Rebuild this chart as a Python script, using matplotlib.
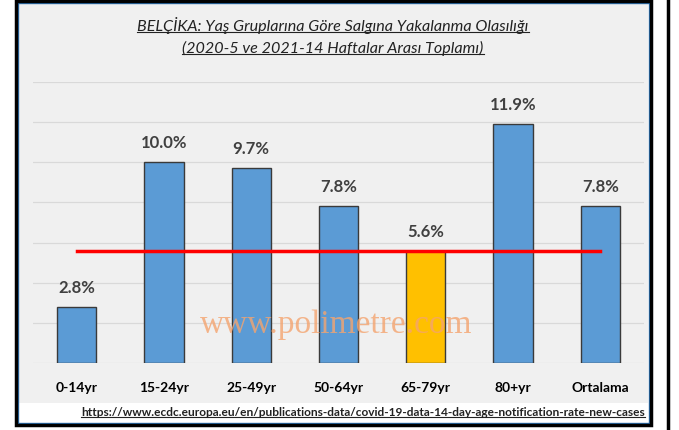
import matplotlib.pyplot as plt
from matplotlib.patches import Rectangle
from matplotlib.lines import Line2D

CATEGORIES = ["0-14yr", "15-24yr", "25-49yr", "50-64yr", "65-79yr", "80+yr", "Ortalama"]
VALUES = [2.8, 10.0, 9.7, 7.8, 5.6, 11.9, 7.8]
VALUE_LABELS = ["2.8%", "10.0%", "9.7%", "7.8%", "5.6%", "11.9%", "7.8%"]
HIGHLIGHT = "65-79yr"
AVG_LINE = 5.6

TITLE_LINES = ["BELÇİKA: Yaş Gruplarına Göre Salgına Yakalanma Olasılığı",
               "(2020-5 ve 2021-14 Haftalar Arası Toplamı)"]
SOURCE = "https://www.ecdc.europa.eu/en/publications-data/covid-19-data-14-day-age-notification-rate-new-cases"
WATERMARK = "www.polimetre.com"

plt.rcParams["font.family"] = ["Lato", "DejaVu Sans"]

W, H = 679, 430


def fx(px):
    return px / W


def fy(py):
    return 1 - py / H


fig = plt.figure(figsize=(W / 100, H / 100), dpi=100)
fig.patch.set_facecolor("white")

# chart box: gray plot zone, white source strip, borders
fig.patches.append(Rectangle((fx(18), fy(403)), fx(648) - fx(18), fy(3) - fy(403),
                             transform=fig.transFigure, facecolor="#f0f0f0",
                             edgecolor="none", zorder=-3))
fig.patches.append(Rectangle((fx(17.5), fy(423)), fx(648.5) - fx(17.5), fy(2.5) - fy(423),
                             transform=fig.transFigure, facecolor="none",
                             edgecolor="#2e75b6", linewidth=1, zorder=-2))
fig.patches.append(Rectangle((fx(16), fy(425)), fx(651) - fx(16), fy(1) - fy(425),
                             transform=fig.transFigure, facecolor="none",
                             edgecolor="black", linewidth=2.5, zorder=-1))
fig.lines.append(Line2D([fx(668), fx(668)], [0, 1], transform=fig.transFigure,
                        color="black", linewidth=2.5))

ax = fig.add_axes([fx(33), fy(363), fx(644) - fx(33), fy(82) - fy(363)])
ax.set_facecolor("none")
ax.set_zorder(3)

colors = ["#ffc000" if c == HIGHLIGHT else "#5b9bd5" for c in CATEGORIES]
x = list(range(len(CATEGORIES)))
ax.bar(x, VALUES, width=0.45, color=colors, edgecolor="#3a3a3a", linewidth=1, zorder=2)

for xi, v, lab in zip(x, VALUES, VALUE_LABELS):
    ax.text(xi, v + 0.55, lab, ha="center", va="bottom", fontsize=12,
            fontweight="bold", color="#404040", zorder=4)

ax.plot([x[0], x[-1]], [AVG_LINE, AVG_LINE], color="#ff0000", linewidth=2.5, zorder=3)

ax.set_xlim(-0.5, len(CATEGORIES) - 0.5)
ax.set_ylim(0, 14)
ax.set_yticks(range(0, 15, 2))
ax.yaxis.grid(True, color="#d9d9d9", linewidth=0.9, zorder=0)
ax.set_axisbelow(True)
ax.tick_params(axis="y", left=False, labelleft=False)
ax.tick_params(axis="x", bottom=False, pad=10)
ax.set_xticks(x)
ax.set_xticklabels(CATEGORIES, fontsize=10, fontweight="bold", color="black")
for s in ax.spines.values():
    s.set_visible(False)

ax.text(2.97, 1.9, WATERMARK, ha="center", va="center", fontsize=24,
        family="Liberation Serif", color="#f4a46f", alpha=0.8, zorder=5)

t1 = fig.text(fx(333), fy(25), TITLE_LINES[0], ha="center", va="center", fontsize=11.6,
              style="italic", color="#222222")
t2 = fig.text(fx(333), fy(48), TITLE_LINES[1], ha="center", va="center", fontsize=11.6,
              style="italic", color="#222222")
src = fig.text(fx(645), fy(413), SOURCE, ha="right", va="center", fontsize=8.55,
               fontweight="bold", color="#222222")

# underline the texts from their drawn extents
fig.canvas.draw()
inv = fig.transFigure.inverted()
for t, off in [(t1, 2), (t2, 2), (src, 1.5)]:
    bb = t.get_window_extent()
    (x0, y0), (x1, _) = inv.transform([(bb.x0, bb.y0 + off), (bb.x1, bb.y0 + off)])
    fig.lines.append(Line2D([x0, x1], [y0, y0], transform=fig.transFigure,
                            color="#222222", linewidth=0.8))

fig.savefig("out.png", dpi=100)
